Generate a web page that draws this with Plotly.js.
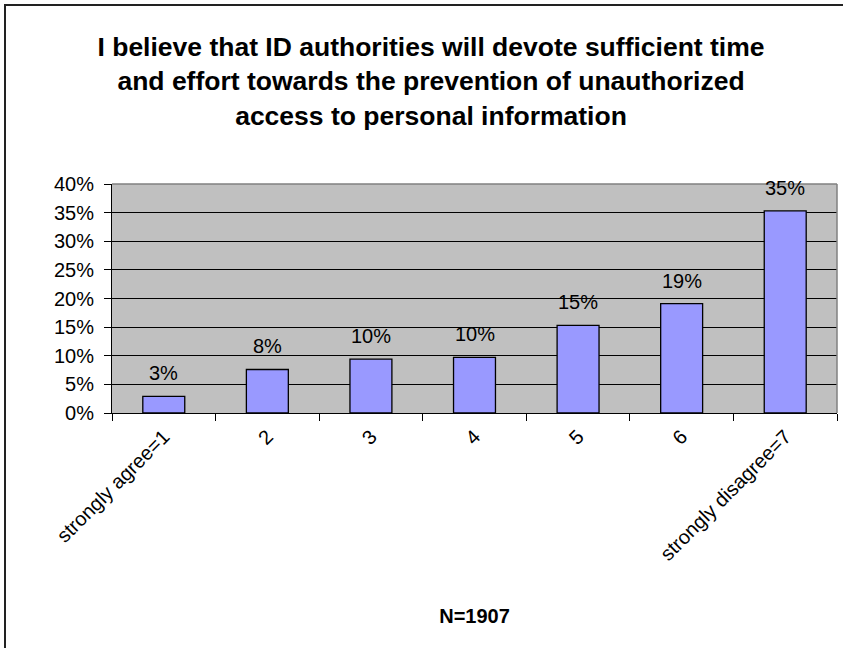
<!DOCTYPE html>
<html>
<head>
<meta charset="utf-8">
<script src="https://cdn.plot.ly/plotly-3.0.1.min.js"></script>
<style>
  html, body { margin: 0; padding: 0; background: #fff; overflow: hidden; }
  #wrap { position: relative; width: 843px; height: 648px; }
  #chart { width: 843px; height: 648px; }
  #frame { position: absolute; left: 4px; top: 4px; width: 1000px; height: 1000px;
           border: 2px solid #222; pointer-events: none; z-index: 10; box-sizing: border-box; }
</style>
</head>
<body>
<div id="wrap">
  <div id="chart"></div>
  <div id="frame"></div>
</div>
<script>
const categories = ["strongly agree=1", "2", "3", "4", "5", "6", "strongly disagree=7"];
const values = [0.029, 0.076, 0.094, 0.097, 0.153, 0.191, 0.353];
const valueLabels = ["3%", "8%", "10%", "10%", "15%", "19%", "35%"];
const yTickVals = [0, 0.05, 0.10, 0.15, 0.20, 0.25, 0.30, 0.35, 0.40];
const yTickText = ["0%", "5%", "10%", "15%", "20%", "25%", "30%", "35%", "40%"];
const chartTitle = "I believe that ID authorities will devote sufficient time<br>and effort towards the prevention of unauthorized<br>access to personal information";
const xTitle = "N=1907";

const FONT = "Liberation Sans, Arial, Helvetica, sans-serif";

const trace = {
  type: "bar",
  x: categories,
  y: values,
  marker: { color: "#9999FF", line: { color: "#000000", width: 1.3 } },
  hoverinfo: "skip"
};

// category axes position annotations by category index
const labelAnns = categories.map((c, i) => ({
  x: i, y: values[i], xref: "x", yref: "y",
  text: valueLabels[i], showarrow: false,
  yanchor: "bottom", yshift: 10,
  font: { family: FONT, size: 20, color: "#000" }
}));

const layout = {
  width: 843, height: 648,
  margin: { l: 112, r: 6, t: 184, b: 235, pad: 0 },
  paper_bgcolor: "#ffffff",
  plot_bgcolor: "#C0C0C0",
  showlegend: false,
  bargap: 0.595,
  title: {
    text: chartTitle,
    font: { family: FONT, size: 26.5, color: "#000", weight: "bold" },
    x: 431 / 843, xanchor: "center", xref: "container",
    y: 1 - 56 / 648, yanchor: "top", yref: "container"
  },
  xaxis: {
    type: "category",
    tickangle: -45,
    tickson: "boundaries",
    ticks: "outside", ticklen: 7, tickcolor: "#000", tickwidth: 1,
    showline: true, linecolor: "#000", linewidth: 1,
    showgrid: false,
    tickfont: { family: FONT, size: 20, color: "#000" },
    ticklabelstandoff: 3,
    title: { text: xTitle, font: { family: FONT, size: 20, color: "#000", weight: "bold" }, standoff: 45 },
    automargin: false
  },
  yaxis: {
    range: [0, 0.40],
    tickvals: yTickVals, ticktext: yTickText,
    ticks: "outside", ticklen: 7, tickcolor: "#000", tickwidth: 1,
    showline: true, linecolor: "#000", linewidth: 1,
    showgrid: true, gridcolor: "#000", gridwidth: 1,
    zeroline: false,
    tickfont: { family: FONT, size: 20, color: "#000" },
    ticklabelstandoff: 6,
    automargin: false
  },
  shapes: [
    { type: "line", xref: "paper", yref: "paper", x0: 0, x1: 1, y0: 1, y1: 1, line: { color: "#808080", width: 1.5 } },
    { type: "line", xref: "paper", yref: "paper", x0: 1, x1: 1, y0: 0, y1: 1, line: { color: "#808080", width: 1.5 } }
  ],
  annotations: labelAnns
};

Plotly.newPlot("chart", [trace], layout, { displayModeBar: false, staticPlot: true });
</script>
</body>
</html>
